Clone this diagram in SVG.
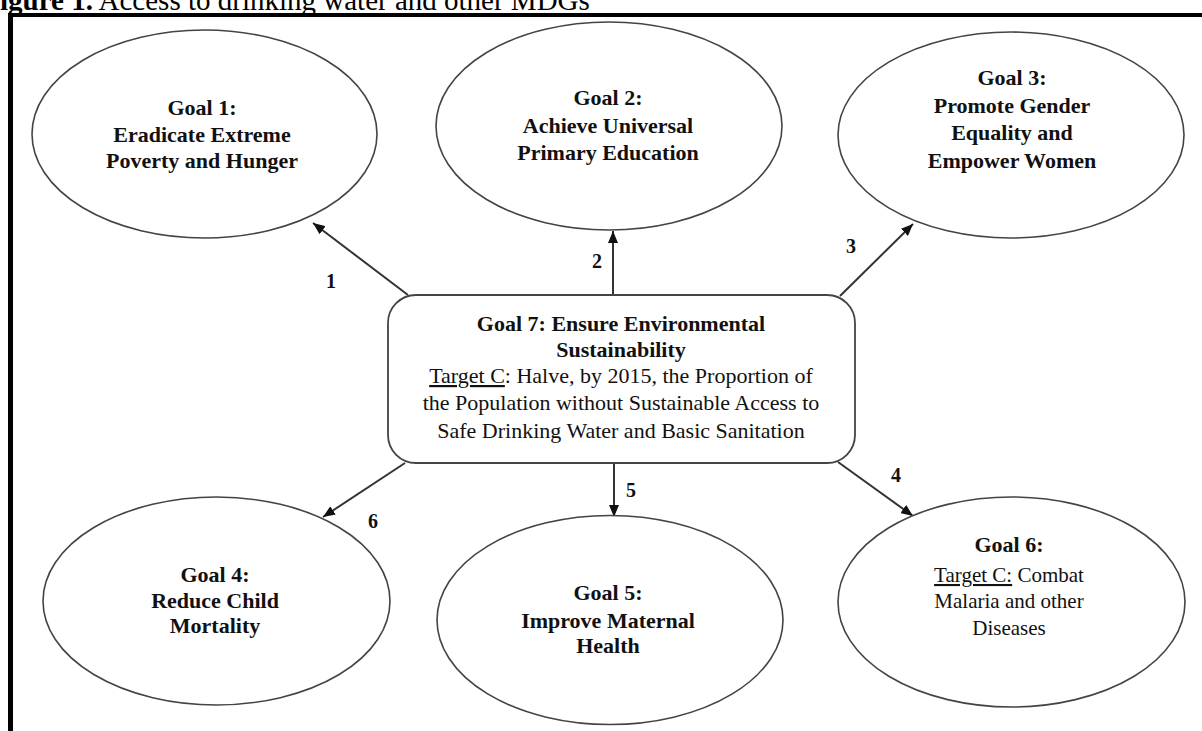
<svg xmlns="http://www.w3.org/2000/svg" width="1202" height="731" viewBox="0 0 1202 731">
<defs>
<style>
.bg{fill:#fff}
.el{fill:#fff;stroke:#444;stroke-width:1.6}
.box{fill:#fff;stroke:#444;stroke-width:1.8}
.t{font-family:"Liberation Serif","Times New Roman",serif;fill:#111;text-anchor:middle}
.b{font-weight:bold;font-size:22px}
.r{font-size:22px}
.s{font-size:21px}
.lbl{font-family:"Liberation Serif","Times New Roman",serif;font-weight:bold;font-size:20px;fill:#111;text-anchor:middle}
.cn{stroke:#333;stroke-width:2;fill:none;marker-end:url(#ah)}
.u{text-decoration:underline}
</style>
<marker id="ah" viewBox="0 0 12 10" refX="12" refY="5" markerWidth="12" markerHeight="10" markerUnits="userSpaceOnUse" orient="auto">
<path d="M0,0 L12,5 L0,10 z" fill="#111"/>
</marker>
</defs>
<rect class="bg" x="0" y="0" width="1202" height="731"/>
<text x="0" y="10" font-family="Liberation Serif, serif" font-size="29" fill="#000"><tspan font-weight="bold">igure 1.</tspan> Access to drinking water and other MDGs</text>
<g id="frame">
<line x1="8" y1="15" x2="1202" y2="15" stroke="#000" stroke-width="4"/>
<line x1="10.5" y1="13" x2="10.5" y2="731" stroke="#000" stroke-width="5"/>
</g>
<g id="connectors">
<line class="cn" x1="408" y1="295" x2="313" y2="223"/>
<line class="cn" x1="613" y1="295" x2="613" y2="231"/>
<line class="cn" x1="840" y1="296" x2="913" y2="224"/>
<line class="cn" x1="838" y1="462" x2="913" y2="516"/>
<line class="cn" x1="614" y1="463" x2="614" y2="517"/>
<line class="cn" x1="405" y1="463" x2="323" y2="517"/>
<text class="lbl" x="331" y="288">1</text>
<text class="lbl" x="597" y="268">2</text>
<text class="lbl" x="851" y="253">3</text>
<text class="lbl" x="896" y="482">4</text>
<text class="lbl" x="631" y="497">5</text>
<text class="lbl" x="373" y="528">6</text>
</g>
<g id="goal1">
<ellipse class="el" cx="204.5" cy="134" rx="172.5" ry="104"/>
<text class="t b" x="202" y="115">Goal 1:</text>
<text class="t b" x="202" y="142">Eradicate Extreme</text>
<text class="t b" x="202" y="168">Poverty and Hunger</text>
</g>
<g id="goal2">
<ellipse class="el" cx="609" cy="126" rx="173" ry="104"/>
<text class="t b" x="608" y="105">Goal 2:</text>
<text class="t b" x="608" y="133">Achieve Universal</text>
<text class="t b" x="608" y="160">Primary Education</text>
</g>
<g id="goal3">
<ellipse class="el" cx="1011" cy="135" rx="173" ry="103"/>
<text class="t b" x="1012" y="85">Goal 3:</text>
<text class="t b" x="1012" y="113">Promote Gender</text>
<text class="t b" x="1012" y="140">Equality and</text>
<text class="t b" x="1012" y="168">Empower Women</text>
</g>
<g id="goal7">
<rect class="box" x="388" y="295" width="467" height="168" rx="28" ry="28"/>
<text class="t b" x="621" y="331">Goal 7: Ensure Environmental</text>
<text class="t b" x="621" y="357">Sustainability</text>
<text class="t r" x="621" y="383"><tspan class="u">Target C</tspan>: Halve, by 2015, the Proportion of</text>
<text class="t r" x="621" y="410">the Population without Sustainable Access to</text>
<text class="t r" x="621" y="438">Safe Drinking Water and Basic Sanitation</text>
</g>
<g id="goal4">
<ellipse class="el" cx="216.5" cy="601" rx="173.5" ry="104"/>
<text class="t b" x="215" y="582">Goal 4:</text>
<text class="t b" x="215" y="608">Reduce Child</text>
<text class="t b" x="215" y="633">Mortality</text>
</g>
<g id="goal5">
<ellipse class="el" cx="610" cy="620" rx="173" ry="104.5"/>
<text class="t b" x="608" y="600">Goal 5:</text>
<text class="t b" x="608" y="628">Improve Maternal</text>
<text class="t b" x="608" y="653">Health</text>
</g>
<g id="goal6">
<ellipse class="el" cx="1011.5" cy="602" rx="173.5" ry="105"/>
<text class="t b" x="1009" y="552">Goal 6:</text>
<text class="t s" x="1009" y="582"><tspan class="u">Target C:</tspan> Combat</text>
<text class="t s" x="1009" y="608">Malaria and other</text>
<text class="t s" x="1009" y="635">Diseases</text>
</g>
</svg>
